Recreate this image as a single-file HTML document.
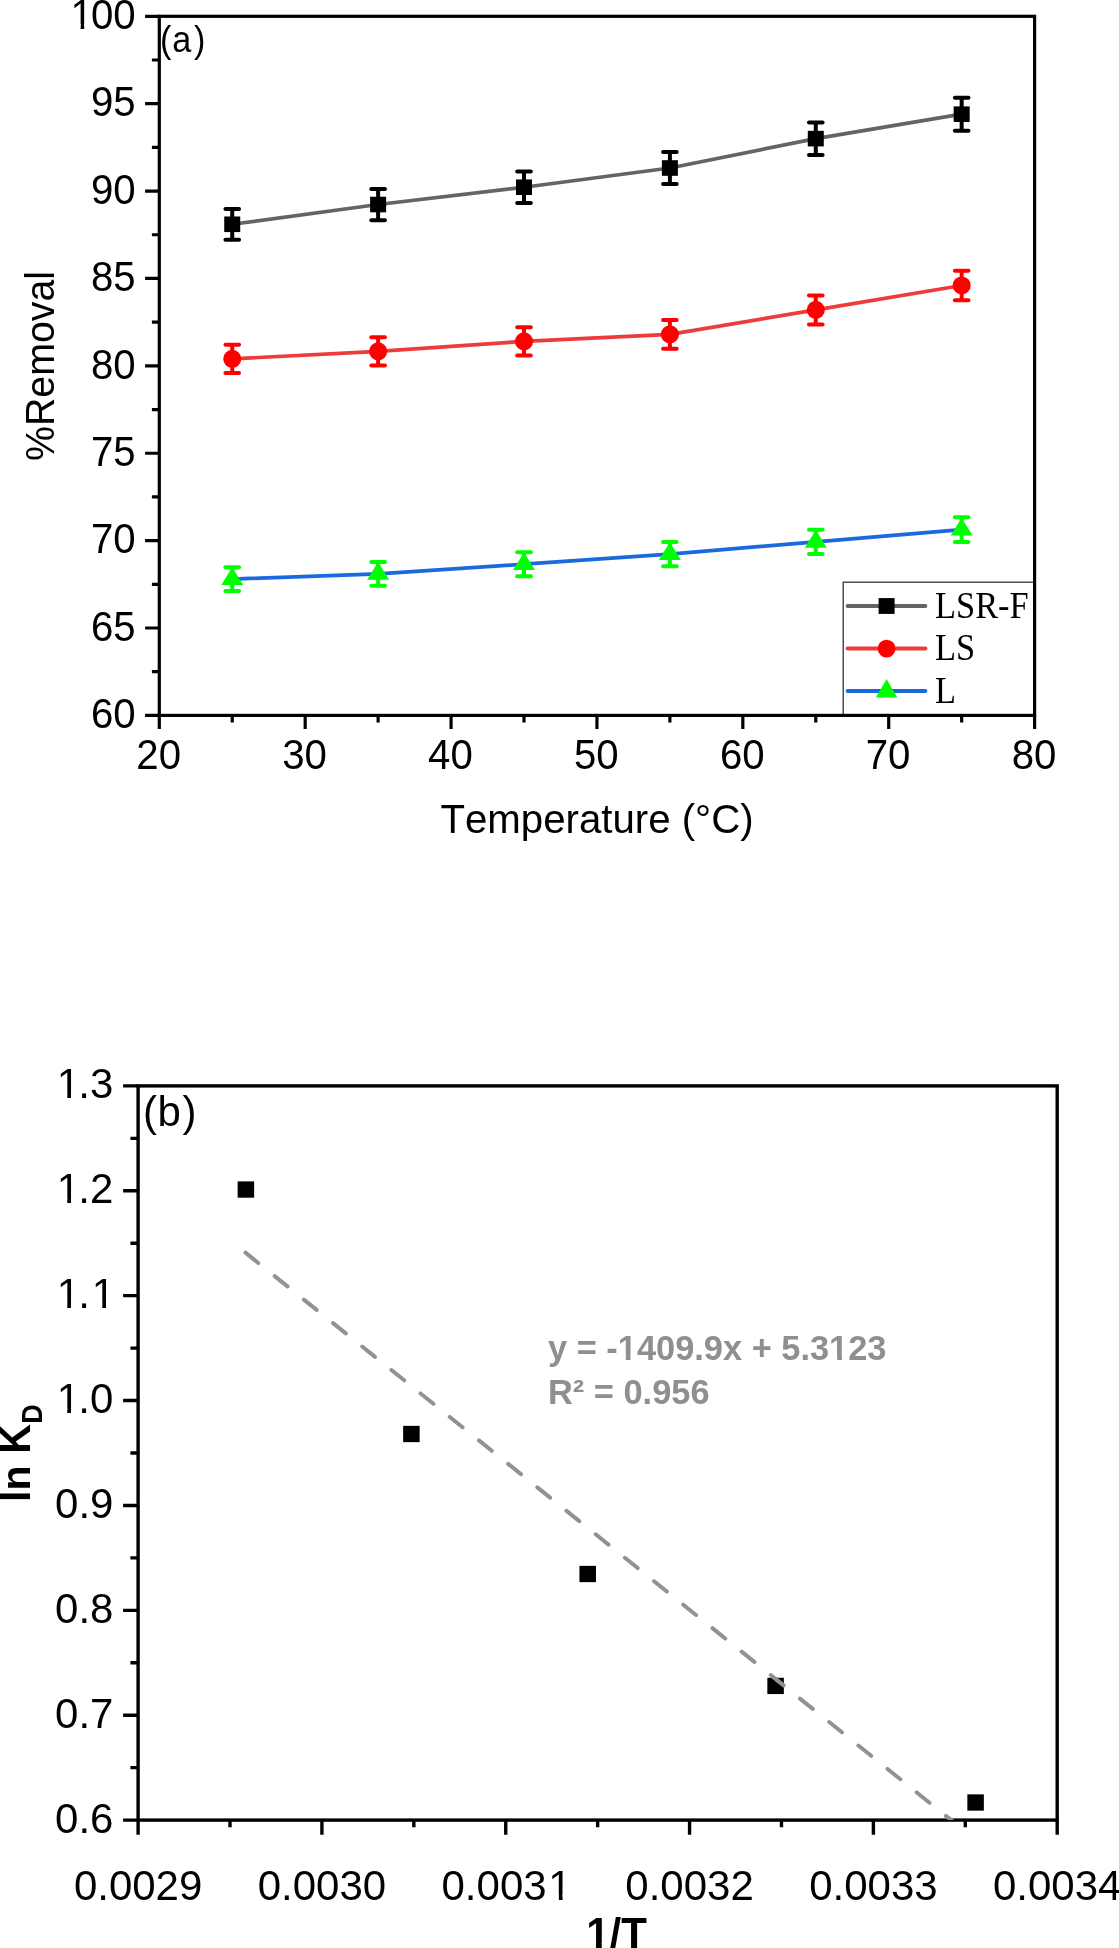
<!DOCTYPE html>
<html><head><meta charset="utf-8"><title>Figure</title>
<style>html,body{margin:0;padding:0;background:#fff}svg{display:block;will-change:transform}text{font-kerning:none;font-variant-ligatures:none}</style>
</head><body>
<svg width="1119" height="1948" viewBox="0 0 1119 1948">
<rect width="1119" height="1948" fill="#fff"/>
<g font-family="'Liberation Sans', sans-serif" font-size="40.2" fill="#000">
<polyline points="232.24,224.28 378.12,204.53 524.01,187.23 669.89,168.00 815.78,138.64 961.66,114.17" fill="none" stroke="#646464" stroke-width="3.7" stroke-linejoin="round"/>
<polyline points="232.24,358.86 378.12,351.34 524.01,341.38 669.89,334.39 815.78,309.92 961.66,285.45" fill="none" stroke="#ee3b3b" stroke-width="3.7" stroke-linejoin="round"/>
<polyline points="232.24,579.08 378.12,573.83 524.01,564.22 669.89,554.08 815.78,541.85 961.66,529.61" fill="none" stroke="#1a6ade" stroke-width="3.7" stroke-linejoin="round"/>
<g stroke="#000" stroke-width="4" stroke-linecap="round"><line x1="232.24" y1="208.88" x2="232.24" y2="239.68" stroke-linecap="butt"/><line x1="225.44" y1="208.88" x2="239.04" y2="208.88"/><line x1="225.44" y1="239.68" x2="239.04" y2="239.68"/></g>
<rect x="224.24" y="216.48" width="16" height="15.6" fill="#000"/>
<g stroke="#000" stroke-width="4" stroke-linecap="round"><line x1="378.12" y1="188.94" x2="378.12" y2="220.13" stroke-linecap="butt"/><line x1="371.32" y1="188.94" x2="384.93" y2="188.94"/><line x1="371.32" y1="220.13" x2="384.93" y2="220.13"/></g>
<rect x="370.12" y="196.73" width="16" height="15.6" fill="#000"/>
<g stroke="#000" stroke-width="4" stroke-linecap="round"><line x1="524.01" y1="171.46" x2="524.01" y2="203.00" stroke-linecap="butt"/><line x1="517.21" y1="171.46" x2="530.81" y2="171.46"/><line x1="517.21" y1="203.00" x2="530.81" y2="203.00"/></g>
<rect x="516.01" y="179.43" width="16" height="15.6" fill="#000"/>
<g stroke="#000" stroke-width="4" stroke-linecap="round"><line x1="669.89" y1="152.04" x2="669.89" y2="183.97" stroke-linecap="butt"/><line x1="663.09" y1="152.04" x2="676.69" y2="152.04"/><line x1="663.09" y1="183.97" x2="676.69" y2="183.97"/></g>
<rect x="661.89" y="160.20" width="16" height="15.6" fill="#000"/>
<g stroke="#000" stroke-width="4" stroke-linecap="round"><line x1="815.78" y1="122.39" x2="815.78" y2="154.90" stroke-linecap="butt"/><line x1="808.98" y1="122.39" x2="822.58" y2="122.39"/><line x1="808.98" y1="154.90" x2="822.58" y2="154.90"/></g>
<rect x="807.78" y="130.84" width="16" height="15.6" fill="#000"/>
<g stroke="#000" stroke-width="4" stroke-linecap="round"><line x1="961.66" y1="97.68" x2="961.66" y2="130.67" stroke-linecap="butt"/><line x1="954.86" y1="97.68" x2="968.46" y2="97.68"/><line x1="954.86" y1="130.67" x2="968.46" y2="130.67"/></g>
<rect x="953.66" y="106.37" width="16" height="15.6" fill="#000"/>
<g stroke="#f00" stroke-width="4" stroke-linecap="round"><line x1="232.24" y1="344.81" x2="232.24" y2="372.91" stroke-linecap="butt"/><line x1="225.44" y1="344.81" x2="239.04" y2="344.81"/><line x1="225.44" y1="372.91" x2="239.04" y2="372.91"/></g>
<circle cx="232.24" cy="358.86" r="9.05" fill="#f00"/>
<g stroke="#f00" stroke-width="4" stroke-linecap="round"><line x1="378.12" y1="337.22" x2="378.12" y2="365.47" stroke-linecap="butt"/><line x1="371.32" y1="337.22" x2="384.93" y2="337.22"/><line x1="371.32" y1="365.47" x2="384.93" y2="365.47"/></g>
<circle cx="378.12" cy="351.34" r="9.05" fill="#f00"/>
<g stroke="#f00" stroke-width="4" stroke-linecap="round"><line x1="524.01" y1="327.15" x2="524.01" y2="355.61" stroke-linecap="butt"/><line x1="517.21" y1="327.15" x2="530.81" y2="327.15"/><line x1="517.21" y1="355.61" x2="530.81" y2="355.61"/></g>
<circle cx="524.01" cy="341.38" r="9.05" fill="#f00"/>
<g stroke="#f00" stroke-width="4" stroke-linecap="round"><line x1="669.89" y1="320.09" x2="669.89" y2="348.69" stroke-linecap="butt"/><line x1="663.09" y1="320.09" x2="676.69" y2="320.09"/><line x1="663.09" y1="348.69" x2="676.69" y2="348.69"/></g>
<circle cx="669.89" cy="334.39" r="9.05" fill="#f00"/>
<g stroke="#f00" stroke-width="4" stroke-linecap="round"><line x1="815.78" y1="295.38" x2="815.78" y2="324.46" stroke-linecap="butt"/><line x1="808.98" y1="295.38" x2="822.58" y2="295.38"/><line x1="808.98" y1="324.46" x2="822.58" y2="324.46"/></g>
<circle cx="815.78" cy="309.92" r="9.05" fill="#f00"/>
<g stroke="#f00" stroke-width="4" stroke-linecap="round"><line x1="961.66" y1="270.67" x2="961.66" y2="300.24" stroke-linecap="butt"/><line x1="954.86" y1="270.67" x2="968.46" y2="270.67"/><line x1="954.86" y1="300.24" x2="968.46" y2="300.24"/></g>
<circle cx="961.66" cy="285.45" r="9.05" fill="#f00"/>
<g stroke="#0f0" stroke-width="4" stroke-linecap="round"><line x1="232.24" y1="567.23" x2="232.24" y2="590.93" stroke-linecap="butt"/><line x1="225.44" y1="567.23" x2="239.04" y2="567.23"/><line x1="225.44" y1="590.93" x2="239.04" y2="590.93"/></g>
<polygon points="232.24,567.34 221.24,584.94 243.24,584.94" fill="#0f0"/>
<g stroke="#0f0" stroke-width="4" stroke-linecap="round"><line x1="378.12" y1="561.93" x2="378.12" y2="585.73" stroke-linecap="butt"/><line x1="371.32" y1="561.93" x2="384.93" y2="561.93"/><line x1="371.32" y1="585.73" x2="384.93" y2="585.73"/></g>
<polygon points="378.12,562.10 367.12,579.70 389.12,579.70" fill="#0f0"/>
<g stroke="#0f0" stroke-width="4" stroke-linecap="round"><line x1="524.01" y1="552.22" x2="524.01" y2="576.22" stroke-linecap="butt"/><line x1="517.21" y1="552.22" x2="530.81" y2="552.22"/><line x1="517.21" y1="576.22" x2="530.81" y2="576.22"/></g>
<polygon points="524.01,552.49 513.01,570.09 535.01,570.09" fill="#0f0"/>
<g stroke="#0f0" stroke-width="4" stroke-linecap="round"><line x1="669.89" y1="541.98" x2="669.89" y2="566.18" stroke-linecap="butt"/><line x1="663.09" y1="541.98" x2="676.69" y2="541.98"/><line x1="663.09" y1="566.18" x2="676.69" y2="566.18"/></g>
<polygon points="669.89,542.35 658.89,559.95 680.89,559.95" fill="#0f0"/>
<g stroke="#0f0" stroke-width="4" stroke-linecap="round"><line x1="815.78" y1="529.63" x2="815.78" y2="554.07" stroke-linecap="butt"/><line x1="808.98" y1="529.63" x2="822.58" y2="529.63"/><line x1="808.98" y1="554.07" x2="822.58" y2="554.07"/></g>
<polygon points="815.78,530.12 804.78,547.72 826.78,547.72" fill="#0f0"/>
<g stroke="#0f0" stroke-width="4" stroke-linecap="round"><line x1="961.66" y1="517.27" x2="961.66" y2="541.96" stroke-linecap="butt"/><line x1="954.86" y1="517.27" x2="968.46" y2="517.27"/><line x1="954.86" y1="541.96" x2="968.46" y2="541.96"/></g>
<polygon points="961.66,517.88 950.66,535.48 972.66,535.48" fill="#0f0"/>
<rect x="843.20" y="582.20" width="191.40" height="133.20" fill="#fff" stroke="#222" stroke-width="1.2"/>
<line x1="847.6" y1="606.00" x2="925.4" y2="606.00" stroke="#646464" stroke-width="4" stroke-linecap="round"/>
<line x1="847.6" y1="648.60" x2="925.4" y2="648.60" stroke="#ee3b3b" stroke-width="4" stroke-linecap="round"/>
<line x1="847.6" y1="691.10" x2="925.4" y2="691.10" stroke="#1a6ade" stroke-width="4" stroke-linecap="round"/>
<rect x="878.60" y="598.10" width="16" height="15.8" fill="#000"/>
<circle cx="886.60" cy="648.60" r="8.9" fill="#f00"/>
<polygon points="886.60,679.10 875.85,697.40 897.35,697.40" fill="#0f0"/>
<g font-family="'Liberation Serif', serif" font-size="34.4">
<text transform="translate(935.00 617.80) scale(1 1.08)">LSR-F</text>
<text transform="translate(935.00 660.40) scale(1 1.08)">LS</text>
<text transform="translate(935.00 703.30) scale(1 1.08)">L</text>
</g>
<rect x="159.30" y="16.30" width="875.30" height="699.10" fill="none" stroke="#000" stroke-width="3.2"/>
<path d="M159.30 715.40 H145.10 M159.30 628.01 H145.10 M159.30 540.62 H145.10 M159.30 453.24 H145.10 M159.30 365.85 H145.10 M159.30 278.46 H145.10 M159.30 191.08 H145.10 M159.30 103.69 H145.10 M159.30 16.30 H145.10 M159.30 671.71 H151.90 M159.30 584.32 H151.90 M159.30 496.93 H151.90 M159.30 409.54 H151.90 M159.30 322.16 H151.90 M159.30 234.77 H151.90 M159.30 147.38 H151.90 M159.30 59.99 H151.90 M159.30 715.40 V729.00 M305.18 715.40 V729.00 M451.07 715.40 V729.00 M596.95 715.40 V729.00 M742.83 715.40 V729.00 M888.72 715.40 V729.00 M1034.60 715.40 V729.00 M232.24 715.40 V722.60 M378.12 715.40 V722.60 M524.01 715.40 V722.60 M669.89 715.40 V722.60 M815.78 715.40 V722.60 M961.66 715.40 V722.60" stroke="#000" stroke-width="3.2" fill="none"/>
<text transform="translate(135.60 728.10) scale(1 1.06)" text-anchor="end" font-size="40.2">60</text>
<text transform="translate(135.60 640.71) scale(1 1.06)" text-anchor="end" font-size="40.2">65</text>
<text transform="translate(135.60 553.33) scale(1 1.06)" text-anchor="end" font-size="40.2">70</text>
<text transform="translate(135.60 465.94) scale(1 1.06)" text-anchor="end" font-size="40.2">75</text>
<text transform="translate(135.60 378.55) scale(1 1.06)" text-anchor="end" font-size="40.2">80</text>
<text transform="translate(135.60 291.16) scale(1 1.06)" text-anchor="end" font-size="40.2">85</text>
<text transform="translate(135.60 203.78) scale(1 1.06)" text-anchor="end" font-size="40.2">90</text>
<text transform="translate(135.60 116.39) scale(1 1.06)" text-anchor="end" font-size="40.2">95</text>
<clipPath id="h1"><path clip-rule="evenodd" d="M-5 -5H1125V1955H-5Z M72.10 24.12H80.65V30.50H72.10Z M84.20 24.12H92.43V30.50H84.20Z"/></clipPath>
<g clip-path="url(#h1)"><text transform="translate(68.53 29.00) scale(1 1.06)" x="2.01 22.36 44.71" font-size="40.2">100</text></g>
<text transform="translate(158.70 769.30) scale(1 1.06)" text-anchor="middle">20</text>
<text transform="translate(304.58 769.30) scale(1 1.06)" text-anchor="middle">30</text>
<text transform="translate(450.47 769.30) scale(1 1.06)" text-anchor="middle">40</text>
<text transform="translate(596.35 769.30) scale(1 1.06)" text-anchor="middle">50</text>
<text transform="translate(742.23 769.30) scale(1 1.06)" text-anchor="middle">60</text>
<text transform="translate(888.12 769.30) scale(1 1.06)" text-anchor="middle">70</text>
<text transform="translate(1034.00 769.30) scale(1 1.06)" text-anchor="middle">80</text>
<text transform="translate(597.00 833.20) scale(1 1.03)" text-anchor="middle">Temperature (°C)</text>
<text transform="translate(53.70 366.00) rotate(-90) scale(1 1.04)" text-anchor="middle" font-size="39.3">%Removal</text>
<text transform="translate(160.10 52.30) scale(1 1.065)" font-size="34.2" x="0 12.2 34.0">(a)</text>
</g>
<g font-family="'Liberation Sans', sans-serif" font-size="42" fill="#000">
<rect x="237.65" y="1181.40" width="16.5" height="16.3" fill="#000"/>
<rect x="403.15" y="1425.85" width="16.5" height="16.3" fill="#000"/>
<rect x="579.45" y="1565.85" width="16.5" height="16.3" fill="#000"/>
<rect x="767.35" y="1677.75" width="16.5" height="16.3" fill="#000"/>
<rect x="967.35" y="1794.35" width="16.5" height="16.3" fill="#000"/>
<clipPath id="cb"><rect x="138.10" y="1085.90" width="919.10" height="734.20"/></clipPath>
<rect x="138.10" y="1085.90" width="919.10" height="734.20" fill="none" stroke="#000" stroke-width="3.4"/>
<line x1="245.48" y1="1252.67" x2="975.78" y2="1839.93" stroke="#929292" stroke-width="4" stroke-linecap="round" stroke-dasharray="16.4 21.05" clip-path="url(#cb)"/>
<path d="M138.10 1820.10 H123.10 M138.10 1715.21 H123.10 M138.10 1610.33 H123.10 M138.10 1505.44 H123.10 M138.10 1400.56 H123.10 M138.10 1295.67 H123.10 M138.10 1190.79 H123.10 M138.10 1085.90 H123.10 M138.10 1767.66 H130.40 M138.10 1662.77 H130.40 M138.10 1557.89 H130.40 M138.10 1453.00 H130.40 M138.10 1348.11 H130.40 M138.10 1243.23 H130.40 M138.10 1138.34 H130.40 M138.10 1820.10 V1834.70 M321.92 1820.10 V1834.70 M505.74 1820.10 V1834.70 M689.56 1820.10 V1834.70 M873.38 1820.10 V1834.70 M1057.20 1820.10 V1834.70 M230.01 1820.10 V1827.30 M413.83 1820.10 V1827.30 M597.65 1820.10 V1827.30 M781.47 1820.10 V1827.30 M965.29 1820.10 V1827.30" stroke="#000" stroke-width="3.4" fill="none"/>
<text transform="translate(113.40 1832.60) scale(1 1.01)" text-anchor="end" font-size="42">0.6</text>
<text transform="translate(113.40 1727.71) scale(1 1.01)" text-anchor="end" font-size="42">0.7</text>
<text transform="translate(113.40 1622.83) scale(1 1.01)" text-anchor="end" font-size="42">0.8</text>
<text transform="translate(113.40 1517.94) scale(1 1.01)" text-anchor="end" font-size="42">0.9</text>
<clipPath id="h2"><path clip-rule="evenodd" d="M-5 -5H1125V1955H-5Z M58.39 1408.19H67.26V1414.56H58.39Z M70.97 1408.19H79.50V1414.56H70.97Z"/></clipPath>
<g clip-path="url(#h2)"><text transform="translate(55.01 1413.06) scale(1 1.01)" x="1.68 23.36 35.03" font-size="42">1.0</text></g>
<clipPath id="h3"><path clip-rule="evenodd" d="M-5 -5H1125V1955H-5Z M58.39 1303.30H67.26V1309.67H58.39Z M70.97 1303.30H79.50V1309.67H70.97Z M93.42 1303.30H102.28V1309.67H93.42Z M106.00 1303.30H114.53V1309.67H106.00Z"/></clipPath>
<g clip-path="url(#h3)"><text transform="translate(55.01 1308.17) scale(1 1.01)" x="1.68 23.36 36.71" font-size="42">1.1</text></g>
<clipPath id="h4"><path clip-rule="evenodd" d="M-5 -5H1125V1955H-5Z M58.39 1198.42H67.26V1204.79H58.39Z M70.97 1198.42H79.50V1204.79H70.97Z"/></clipPath>
<g clip-path="url(#h4)"><text transform="translate(55.01 1203.29) scale(1 1.01)" x="1.68 23.36 35.03" font-size="42">1.2</text></g>
<clipPath id="h5"><path clip-rule="evenodd" d="M-5 -5H1125V1955H-5Z M58.39 1093.53H67.26V1099.90H58.39Z M70.97 1093.53H79.50V1099.90H70.97Z"/></clipPath>
<g clip-path="url(#h5)"><text transform="translate(55.01 1098.40) scale(1 1.01)" x="1.68 23.36 35.03" font-size="42">1.3</text></g>
<text transform="translate(138.10 1899.90) scale(1 1.01)" text-anchor="middle" font-size="42">0.0029</text>
<text transform="translate(321.92 1899.90) scale(1 1.01)" text-anchor="middle" font-size="42">0.0030</text>
<clipPath id="h6"><path clip-rule="evenodd" d="M-5 -5H1125V1955H-5Z M549.99 1895.03H558.85V1901.40H549.99Z M562.57 1895.03H571.10V1901.40H562.57Z"/></clipPath>
<g clip-path="url(#h6)"><text transform="translate(441.51 1899.90) scale(1 1.01)" x="0.00 23.36 35.03 58.39 81.74 106.78" font-size="42">0.0031</text></g>
<text transform="translate(689.56 1899.90) scale(1 1.01)" text-anchor="middle" font-size="42">0.0032</text>
<text transform="translate(873.38 1899.90) scale(1 1.01)" text-anchor="middle" font-size="42">0.0033</text>
<text transform="translate(1057.20 1899.90) scale(1 1.01)" text-anchor="middle" font-size="42">0.0034</text>
<text transform="translate(143.00 1125.50) scale(1 1.01)" x="0 14.4 39.6">(b)</text>
<clipPath id="h7"><path clip-rule="evenodd" d="M-5 -5H1125V1955H-5Z M587.30 1942.71H595.96V1950.50H587.30Z M601.72 1942.71H609.85V1950.50H601.72Z"/></clipPath>
<g clip-path="url(#h7)"><text transform="translate(586.16 1949.00) scale(1 1.07)" font-size="42" font-weight="bold">1/T</text></g>
<text transform="translate(30.20 1501.90) rotate(-90) scale(1 1.07)" font-weight="bold" font-size="41.2">l</text>
<text transform="translate(30.20 1490.45) rotate(-90) scale(1 1)" font-weight="bold" font-size="41.2">n</text>
<text transform="translate(30.20 1453.84) rotate(-90) scale(1 1.07)" font-weight="bold" font-size="41.2">K</text>
<text transform="translate(41.60 1423.70) rotate(-90) scale(1 1.08)" font-weight="bold" font-size="27">D</text>
<g fill="#8f8f8f">
<clipPath id="h8"><path clip-rule="evenodd" d="M-5 -5H1125V1955H-5Z M618.46 1354.89H625.82V1361.60H618.46Z M630.54 1354.89H637.47V1361.60H630.54Z M829.83 1354.89H837.19V1361.60H829.83Z M841.91 1354.89H848.84V1361.60H841.91Z"/></clipPath>
<g clip-path="url(#h8)"><text transform="translate(548.00 1360.10) scale(1 1)" font-size="34.4" font-weight="bold">y = -1409.9x + 5.3123</text></g>
<text transform="translate(548.00 1404.00) scale(1 1)" font-size="34.4" font-weight="bold">R² = 0.956</text>
</g>
</g>
</svg>
</body></html>
